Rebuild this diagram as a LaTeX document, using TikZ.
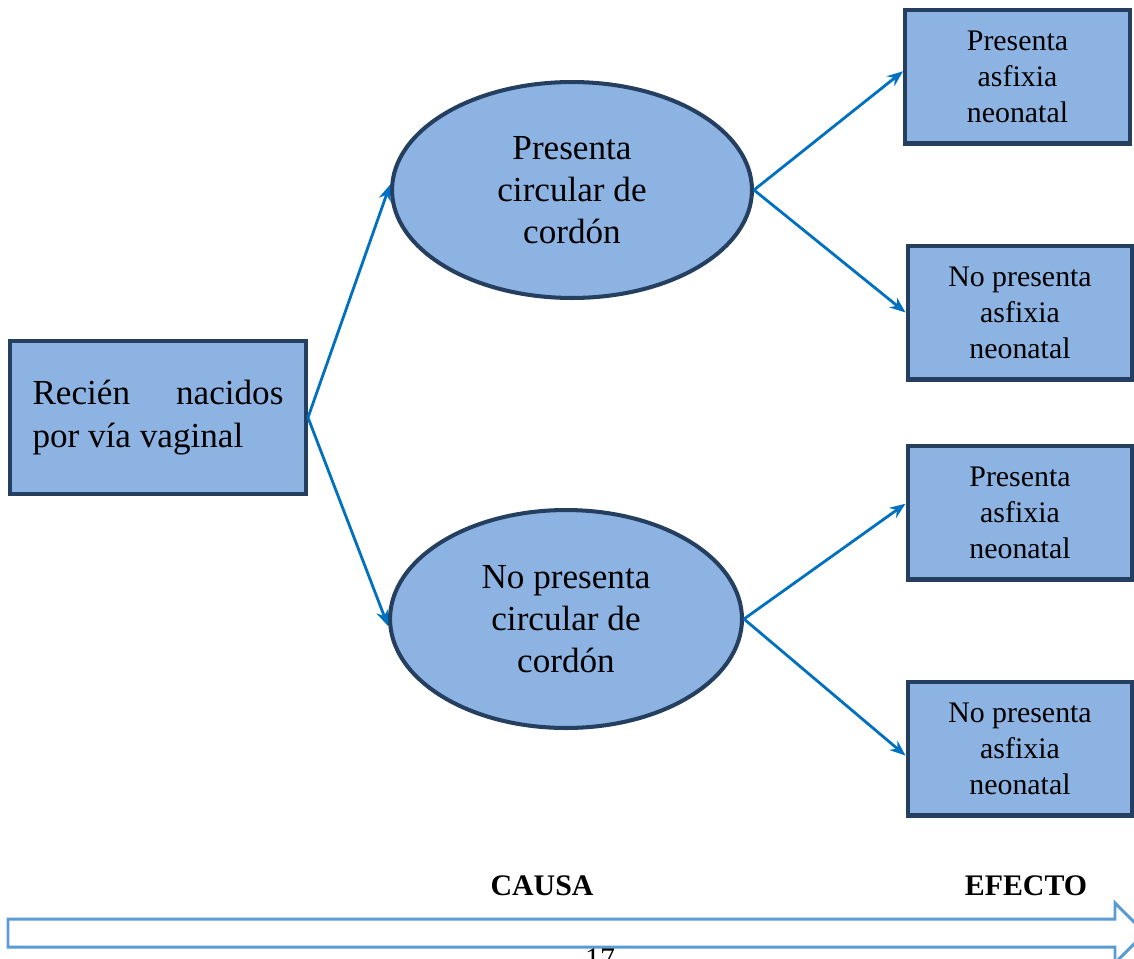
\documentclass[tikz,border=0pt]{standalone}
\usepackage{fontspec}
\setmainfont{Liberation Serif}
\definecolor{boxfill}{RGB}{141,179,226}
\definecolor{boxline}{RGB}{36,63,96}
\definecolor{arrowblue}{RGB}{0,112,192}
\definecolor{timeblue}{RGB}{91,155,213}
\usetikzlibrary{arrows.meta,positioning,shapes.geometric}

\begin{document}
\begin{tikzpicture}[
  x=0.02cm, y=-0.02cm,
  startbox/.style={draw=boxline,fill=boxfill,line width=2.3pt,minimum width=5.92cm,
                   minimum height=3.06cm,text width=5.02cm,align=justify,inner sep=0pt,
                   font=\fontsize{20}{24}\selectfont},
  causeoval/.style={ellipse,draw=boxline,fill=boxfill,line width=2.3pt,inner sep=0pt,
                    align=center,font=\fontsize{20}{24}\selectfont},
  effectbox/.style={draw=boxline,fill=boxfill,line width=2.3pt,minimum width=4.5cm,
                    minimum height=2.68cm,align=center,inner sep=0pt,
                    font=\fontsize{17}{20.5}\selectfont},
  branch/.style={-{Stealth[length=9pt,width=7pt]},line width=1.6pt,arrowblue},
]
  \useasboundingbox (0,0) rectangle (1134,958);

  % Left: starting group
  \node[startbox] (rn) at (158,417.5) {Recién nacidos por vía vaginal};

  % Middle: cause
  \node[causeoval,minimum width=7.2cm,minimum height=4.32cm] (si) at (572,190)
    {Presenta\\circular de\\cordón};
  \node[causeoval,minimum width=7.04cm,minimum height=4.36cm] (no) at (566,619)
    {No presenta\\circular de\\cordón};

  % Right: effect
  \node[effectbox] (e1) at (1017.5,76.5) {Presenta\\asfixia\\neonatal};
  \node[effectbox] (e2) at (1020,312.5) {No presenta\\asfixia\\neonatal};
  \node[effectbox] (e3) at (1020,512.5) {Presenta\\asfixia\\neonatal};
  \node[effectbox] (e4) at (1020,748.5) {No presenta\\asfixia\\neonatal};

  \draw[branch] (rn.east) -- ([yshift=3pt]si.west);
  \draw[branch] (rn.east) -- ([yshift=-4pt]no.west);
  \draw[branch] (si.east) -- ([yshift=3pt]e1.west);
  \draw[branch] (si.east) -- (e2.west);
  \draw[branch] (no.east) -- ([yshift=5pt]e3.west);
  \draw[branch] (no.east) -- ([yshift=-4pt]e4.west);

  % Bottom: time line
  \node[font=\fontsize{17}{20}\selectfont\bfseries] (causa) at (542,886) {CAUSA};
  \node[font=\fontsize{17}{20}\selectfont\bfseries] (efecto) at (1026,886) {EFECTO};
  \draw[timeblue,line width=1.7pt,fill=white,line join=miter]
    (8,919) -- (1115,919) -- (1115,903) -- (1145,933) -- (1115,963)
    -- (1115,947) -- (8,947) -- cycle;
  \node[anchor=north,inner sep=0pt,font=\fontsize{17}{20}\selectfont] (pg) at (600,948) {17};
\end{tikzpicture}
\end{document}
